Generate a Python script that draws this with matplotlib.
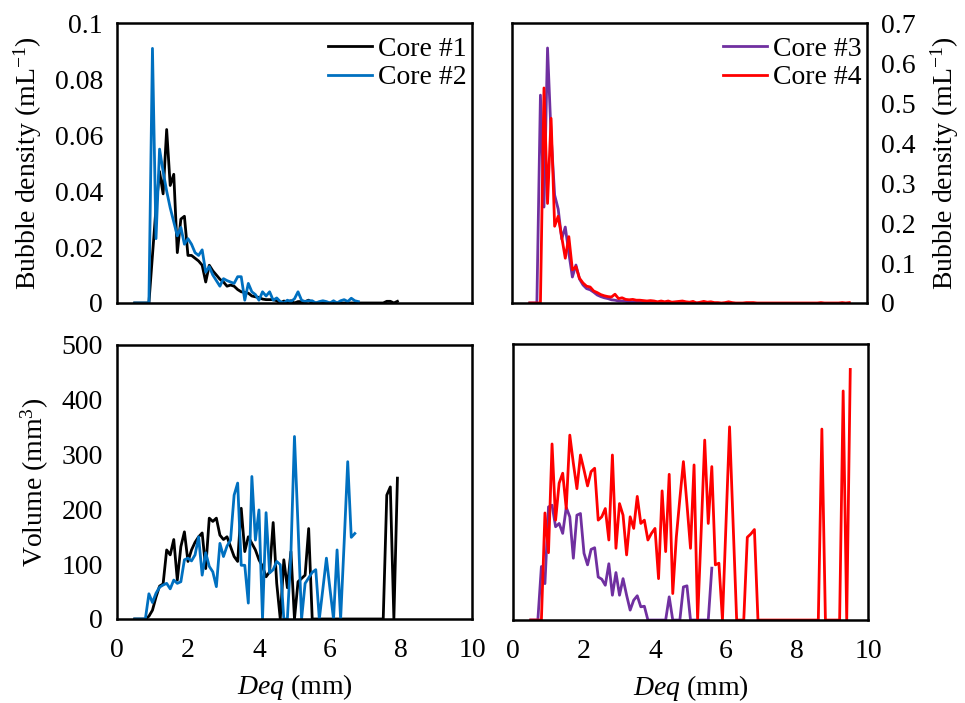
"""
Bubble size distributions of four cores: bubble density (top) and
bubble volume (bottom) versus equivalent diameter Deq.
"""

import numpy as np
import matplotlib
matplotlib.use("Agg")
import matplotlib.pyplot as plt

# ---------------------------------------------------------------------------
# Data (0.1 mm bins starting at 0.5 mm)
# ---------------------------------------------------------------------------
DEQ = np.round(np.arange(0.5, 9.55, 0.1), 1)

CORE1_DENSITY = [
    0, 0, 0, 0, 0, 0.017, 0.034, 0.047, 0.039, 0.062,
    0.042, 0.046, 0.018, 0.030, 0.031, 0.017, 0.017, 0.016, 0.015, 0.0135,
    0.0075, 0.0135, 0.0115, 0.010, 0.0085, 0.0075, 0.006, 0.0064, 0.006, 0.0048,
    0.004, 0.0038, 0.0035, 0.0025, 0.0022, 0.002, 0.0014, 0.0012, 0.0012, 0.0012,
    0.0008, 0, 0.0007, 0.0004, 0.0008, 0, 0.0005, 0.0005, 0.0005, 0.001,
    0, 0, 0, 0, 0, 0, 0, 0, 0, 0,
    0, 0, 0, 0, 0, 0, 0, 0, 0, 0,
    0, 0.0006, 0.0006, 0, 0.0006,
]
CORE2_DENSITY = [
    0, 0, 0, 0, 0, 0.091, 0.023, 0.055, 0.047, 0.040,
    0.034, 0.029, 0.024, 0.027, 0.021, 0.023, 0.021, 0.018, 0.017, 0.019,
    0.011, 0.013, 0.010, 0.008, 0.006, 0.0087, 0.008, 0.0075, 0.007, 0.0094,
    0.0094, 0.001, 0.007, 0.004, 0.003, 0.001, 0.004, 0.0025, 0.004, 0.001,
    0.0018, 0.0005, 0, 0.001, 0.0005, 0.0015, 0.004, 0.001, 0.0005, 0.0008,
    0.0008, 0, 0.0005, 0.0008, 0.0005, 0, 0.0008, 0, 0.0008, 0.0012,
    0.0005, 0.0017, 0.0008, 0.0005,
]
CORE3_DENSITY = [
    0, 0, 0, 0.52, 0.24, 0.638, 0.42, 0.27, 0.235, 0.16,
    0.19, 0.125, 0.065, 0.095, 0.06, 0.045, 0.036, 0.033, 0.027, 0.02,
    0.016, 0.013, 0.011, 0.008, 0.007, 0.005, 0.005, 0.004, 0.002, 0.003,
    0.003, 0.002, 0.002, 0, 0, 0, 0, 0, 0, 0.001,
    0, 0, 0, 0.001, 0.001, 0, 0, 0, 0, 0,
    0, 0.001,
]
CORE4_DENSITY = [
    0, 0, 0, 0, 0.538, 0.249, 0.462, 0.192, 0.217, 0.165,
    0.112, 0.166, 0.083, 0.091, 0.062, 0.05, 0.042, 0.04, 0.03, 0.026,
    0.021, 0.018, 0.016, 0.015, 0.022, 0.011, 0.013, 0.009, 0.008, 0.009,
    0.007, 0.007, 0.006, 0.005, 0.006, 0.005, 0.003, 0.005, 0.003, 0.005,
    0.002, 0.003, 0.004, 0.005, 0.003, 0.002, 0.004, 0, 0.002, 0.004,
    0.002, 0.003, 0.001, 0.001, 0, 0.001, 0.003, 0.001, 0, 0,
    0, 0.001, 0.001, 0.001, 0, 0, 0, 0, 0, 0,
    0, 0, 0, 0, 0, 0, 0, 0, 0, 0,
    0, 0, 0.001, 0, 0, 0, 0, 0, 0.001, 0,
    0.001,
]

CORE1_VOLUME = [
    0, 0, 0, 0, 5, 16, 40, 60, 64, 126,
    117, 145, 71, 132, 159, 105, 126, 140, 150, 157,
    92, 184, 178, 184, 153, 145, 150, 132, 114, 105,
    202, 123, 150, 138, 126, 108, 96, 77, 86, 176,
    65, 0, 108, 57, 123, 0, 68, 74, 80, 165,
    0, 0, 0, 0, 0, 0, 0, 0, 0, 0,
    0, 0, 0, 0, 0, 0, 0, 0, 0, 0,
    0, 226, 241, 0, 257,
]
CORE2_VOLUME = [
    0, 0, 0, 0, 46, 30, 47, 58, 62, 65,
    55, 71, 65, 68, 108, 111, 106, 117, 150, 80,
    121, 96, 86, 59, 138, 114, 133, 144, 226, 248,
    98, 98, 29, 260, 144, 199, 0, 194, 84, 90,
    105, 99, 0, 0, 120, 333, 170, 0, 65, 75,
    85, 90, 0, 55, 111, 55, 0, 126, 0, 140,
    287, 149, 156,
]
CORE3_VOLUME = [
    0, 0, 0, 97, 66, 205, 208, 169, 175, 157,
    204, 187, 112, 190, 193, 121, 100, 128, 131, 78,
    74, 63, 102, 45, 86, 45, 75, 45, 18, 36,
    44, 24, 25, 0, 0, 0, 0, 0, 0, 42,
    0, 0, 0, 60, 62, 0, 0, 0, 0, 0,
    0, 94,
]
CORE4_VOLUME = [
    0, 0, 0, 0, 194, 122, 319, 181, 248, 266,
    202, 335, 284, 238, 299, 272, 243, 269, 275, 181,
    187, 202, 145, 299, 130, 211, 190, 118, 187, 166,
    224, 175, 181, 145, 157, 166, 75, 234, 124, 264,
    48, 150, 220, 287, 210, 130, 281, 0, 160, 326,
    175, 278, 100, 103, 0, 175, 350, 175, 0, 0,
    0, 150, 156, 164, 0, 0, 0, 0, 0, 0,
    0, 0, 0, 0, 0, 0, 0, 0, 0, 0,
    0, 0, 346, 0, 0, 0, 0, 0, 415, 0,
    454,
]

LABELS = ["Core #1", "Core #2", "Core #3", "Core #4"]
COLORS = ["#000000", "#0070C0", "#7030A0", "#FF0000"]

# ---------------------------------------------------------------------------
# Style
# ---------------------------------------------------------------------------
plt.rcParams["font.family"] = ["Liberation Serif", "DejaVu Serif"]
plt.rcParams["mathtext.fontset"] = "custom"
plt.rcParams["mathtext.rm"] = "Liberation Serif"
plt.rcParams["mathtext.it"] = "Liberation Serif:italic"
FS = 20
LW = 2.0

fig = plt.figure(figsize=(9.65, 7.03), dpi=100)
ax_tl = fig.add_axes([0.1212, 0.569, 0.3679, 0.398])
ax_tr = fig.add_axes([0.5306, 0.569, 0.3679, 0.398])
ax_bl = fig.add_axes([0.1212, 0.1195, 0.3679, 0.3898])
ax_br = fig.add_axes([0.5316, 0.118, 0.3679, 0.3926])


def _line(ax, y, i):
    ax.plot(DEQ[:len(y)], y, color=COLORS[i], lw=LW, label=LABELS[i])


_line(ax_tl, CORE1_DENSITY, 0)
_line(ax_tl, CORE2_DENSITY, 1)
_line(ax_tr, CORE3_DENSITY, 2)
_line(ax_tr, CORE4_DENSITY, 3)
_line(ax_bl, CORE1_VOLUME, 0)
_line(ax_bl, CORE2_VOLUME, 1)
_line(ax_br, CORE3_VOLUME, 2)
_line(ax_br, CORE4_VOLUME, 3)

for ax in (ax_tl, ax_tr, ax_bl, ax_br):
    ax.set_xlim(0, 10)
    ax.set_xticks(np.arange(0, 11, 2))
    ax.tick_params(length=0, labelsize=FS, pad=10)
    ax.tick_params(axis="x", pad=14)
    for sp in ax.spines.values():
        sp.set_linewidth(1.8)

# top row: no x labels
for ax in (ax_tl, ax_tr):
    ax.tick_params(axis="x", labelbottom=False)

ax_tl.set_ylim(0, 0.1)
ax_tl.set_yticks([0, 0.02, 0.04, 0.06, 0.08, 0.1])
ax_tl.set_yticklabels(["0", "0.02", "0.04", "0.06", "0.08", "0.1"])
ax_tl.set_ylabel("Bubble density (mL$^{-1}$)", fontsize=FS, labelpad=8)

ax_tr.set_ylim(0, 0.7)
ax_tr.set_yticks(np.arange(0, 0.71, 0.1))
ax_tr.set_yticklabels(["0", "0.1", "0.2", "0.3", "0.4", "0.5", "0.6", "0.7"])
ax_tr.yaxis.tick_right()
ax_tr.yaxis.set_label_position("right")
ax_tr.set_ylabel("Bubble density (mL$^{-1}$)", fontsize=FS, labelpad=9)

ax_bl.set_ylim(0, 500)
ax_bl.set_yticks(np.arange(0, 501, 100))
ax_bl.set_ylabel("Volume (mm$^{3}$)", fontsize=FS, labelpad=8)

ax_br.set_ylim(0, 500)
ax_br.set_yticks(np.arange(0, 501, 100))
ax_br.tick_params(axis="y", labelleft=False)

for ax in (ax_bl, ax_br):
    ax.set_xlabel("$\\mathit{Deq}$ (mm)", fontsize=FS, labelpad=6)

for ax in (ax_tl, ax_tr):
    ax.legend(loc="upper right", bbox_to_anchor=(1.0, 0.972), frameon=False,
              fontsize=FS, handlelength=1.6, handletextpad=0.2,
              labelspacing=0.1, borderaxespad=0.1, borderpad=0.1)

fig.savefig("out.png", dpi=100)
